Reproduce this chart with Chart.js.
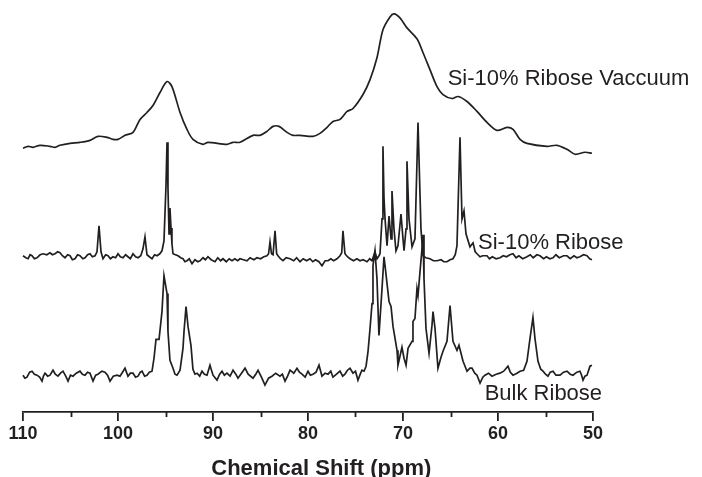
<!DOCTYPE html>
<html>
<head>
<meta charset="utf-8">
<script src="https://cdn.jsdelivr.net/npm/chart.js@4.4.1/dist/chart.umd.min.js"></script>
<style>
  body { margin: 0; background: #fff; }
  #wrap { width: 702px; height: 477px; }
</style>
</head>
<body>
<div id="wrap"><canvas id="nmrChart" width="702" height="477"></canvas></div>
<script>
// 13C spectra, [ppm, intensity] (intensity in arbitrary units above each baseline)
const vacuumTrace = [[110.0,3],[109.47,5],[108.95,4],[108.21,6],[107.16,5],[106.63,4],[106.11,6],[105.05,8],[104.0,9],[102.95,11],[102.11,15],[101.16,14],[100.53,12],[100.0,12],[99.26,16],[98.42,19],[97.68,32],[96.95,39],[96.32,46],[95.58,59],[94.84,70],[94.32,65],[93.47,39],[92.74,22],[92.11,12],[91.05,7],[90.53,9],[88.53,7],[87.89,9],[87.16,9],[85.79,16],[85.05,16],[84.32,20],[83.68,25],[83.05,25],[82.21,19],[81.58,16],[80.84,16],[79.47,15],[78.74,18],[78.0,24],[77.37,30],[76.63,32],[75.89,40],[75.26,43],[74.21,57],[73.47,72],[72.74,94],[72.11,122],[71.37,135],[70.95,138],[70.32,134],[69.58,124],[68.53,113],[67.89,99],[67.16,82],[66.42,65],[65.79,57],[64.84,53],[64.21,55],[63.26,50],[62.21,40],[61.16,29],[60.11,21],[59.05,24],[58.42,22],[57.68,12],[56.95,8],[54.84,5],[53.79,6],[52.74,2],[51.89,-3],[50.84,-1],[50.11,-2]];

const riboseTrace = [[110.0,2],[109.7,0],[109.47,-1],[109.25,3],[109.05,2],[108.8,-1],[108.53,0],[108.2,3],[107.89,4],[107.5,3],[107.16,5],[106.9,3],[106.63,4],[106.35,6],[106.11,5],[105.85,2],[105.58,0],[105.3,3],[105.05,2],[104.8,-2],[104.53,-1],[104.25,3],[104.0,2],[103.7,-1],[103.47,0],[103.2,3],[102.95,4],[102.7,1],[102.42,2],[102.21,6],[102.0,32],[101.79,6],[101.58,-1],[101.3,3],[101.05,2],[100.8,-1],[100.53,1],[100.25,0],[100.0,4],[99.75,1],[99.47,0],[99.2,3],[98.95,1],[98.7,-1],[98.42,4],[98.15,1],[97.89,0],[97.6,2],[97.37,9],[97.16,21],[96.95,3],[96.7,1],[96.42,-1],[96.15,3],[95.89,2],[95.6,4],[95.37,7],[95.16,17],[94.95,72],[94.84,116],[94.74,70],[94.63,24],[94.53,50],[94.42,30],[94.32,14],[94.21,4],[93.95,3],[93.68,2],[93.4,0],[93.16,-1],[92.95,-4],[92.74,-3],[92.5,-1],[92.21,-6],[91.9,-2],[91.6,-4],[91.37,-3],[91.05,0],[90.8,-2],[90.53,1],[90.2,-2],[89.79,-4],[89.5,0],[89.2,-3],[88.95,-1],[88.6,-4],[88.3,-1],[88.0,-3],[87.7,-1],[87.4,-3],[87.16,-1],[86.8,-2],[86.42,-3],[86.1,0],[85.7,-2],[85.37,0],[85.0,-1],[84.65,1],[84.32,2],[84.15,4],[84.0,16],[83.84,4],[83.68,3],[83.47,27],[83.3,4],[83.16,2],[82.9,-1],[82.63,-3],[82.3,0],[81.89,-1],[81.5,-3],[81.2,0],[80.84,-4],[80.5,-1],[80.15,-3],[79.79,-1],[79.5,-4],[79.2,-2],[78.85,-4],[78.53,-8],[78.2,-3],[77.89,-3],[77.6,-1],[77.3,-3],[76.95,-1],[76.63,2],[76.45,5],[76.32,27],[76.11,4],[75.85,1],[75.58,-1],[75.2,-3],[74.85,-1],[74.53,-3],[74.2,-2],[73.79,-4],[73.5,-1],[73.26,-3],[72.95,6],[72.74,-1],[72.53,2],[72.42,4],[72.21,39],[72.11,112],[72.0,60],[71.89,39],[71.68,12],[71.47,42],[71.26,19],[71.16,67],[70.95,29],[70.74,7],[70.53,12],[70.21,44],[70.0,19],[69.89,7],[69.68,29],[69.58,97],[69.37,39],[69.05,11],[68.74,19],[68.42,136],[68.11,29],[67.89,2],[67.6,0],[67.16,-1],[66.8,-3],[66.42,-3],[66.0,-2],[65.7,-4],[65.37,-4],[65.05,-2],[64.74,-1],[64.5,3],[64.32,12],[64.0,121],[63.79,39],[63.58,47],[63.37,24],[62.95,11],[62.63,15],[62.4,6],[62.21,4],[61.9,1],[61.6,2],[61.16,2],[60.9,-1],[60.6,1],[60.2,-1],[59.79,0],[59.45,2],[59.1,1],[58.75,3],[58.42,4],[58.1,0],[57.8,2],[57.4,-1],[56.95,1],[56.6,3],[56.3,0],[55.9,3],[55.58,2],[55.2,-1],[54.9,1],[54.55,-1],[54.21,0],[53.9,3],[53.55,0],[53.1,2],[52.74,2],[52.4,-1],[52.0,2],[51.7,0],[51.37,1],[51.0,3],[50.63,2],[50.35,-1],[50.11,-2]];

const bulkTrace = [[110.0,0],[109.8,-3],[109.58,-2],[109.3,3],[109.05,4],[108.8,1],[108.53,0],[108.25,-2],[108.0,-6],[107.85,-1],[107.68,2],[107.4,-1],[107.16,0],[106.84,5],[106.6,1],[106.32,-1],[106.05,2],[105.79,4],[105.5,-1],[105.26,-6],[105.0,0],[104.74,-1],[104.4,2],[104.0,4],[103.75,1],[103.47,0],[103.2,3],[102.95,2],[102.63,-6],[102.35,0],[102.11,1],[101.7,4],[101.37,3],[101.1,0],[100.84,-6],[100.5,-1],[100.11,0],[99.79,-1],[99.26,7],[98.95,-1],[98.7,2],[98.42,2],[98.15,-2],[97.89,-1],[97.65,3],[97.47,4],[97.2,-1],[96.95,0],[96.7,3],[96.42,4],[96.21,17],[96.0,36],[95.68,36],[95.37,64],[95.16,100],[94.84,82],[94.74,44],[94.53,15],[94.21,7],[94.0,1],[93.79,0],[93.47,5],[93.16,27],[93.05,44],[92.84,69],[92.63,49],[92.32,30],[92.11,6],[91.9,1],[91.68,2],[91.4,-1],[91.16,4],[90.9,1],[90.63,0],[90.32,10],[90.0,0],[89.58,-5],[89.3,1],[89.05,4],[88.8,0],[88.53,2],[88.2,-1],[87.89,5],[87.6,1],[87.37,-3],[87.0,2],[86.63,7],[86.3,1],[85.79,-3],[85.5,1],[85.26,5],[84.9,-2],[84.53,-10],[84.15,-3],[83.79,-1],[83.4,2],[82.95,-1],[82.7,1],[82.42,-6],[82.15,-1],[81.89,5],[81.5,2],[81.16,7],[80.9,3],[80.63,1],[80.3,-2],[80.0,4],[79.75,0],[79.47,1],[79.15,3],[78.84,10],[78.53,-1],[78.2,2],[77.89,1],[77.6,4],[77.37,-2],[77.0,1],[76.63,4],[76.35,-1],[76.11,1],[75.85,5],[75.58,7],[75.26,2],[75.0,4],[74.74,-5],[74.5,1],[74.32,5],[74.1,4],[73.89,9],[73.68,24],[73.47,47],[73.26,72],[73.16,110],[72.95,125],[72.74,97],[72.53,40],[72.21,87],[72.0,119],[71.89,110],[71.68,92],[71.47,74],[71.26,69],[71.05,49],[70.63,25],[70.53,10],[70.11,28],[69.89,17],[69.68,10],[69.47,27],[69.05,34],[68.95,54],[68.74,57],[68.53,87],[68.42,80],[68.21,104],[68.0,127],[67.89,141],[67.79,97],[67.58,47],[67.26,22],[66.95,50],[66.84,64],[66.63,47],[66.32,7],[66.0,18],[65.79,24],[65.37,34],[65.05,70],[64.74,34],[64.32,25],[64.11,30],[63.68,14],[63.26,4],[62.95,7],[62.74,7],[62.45,2],[62.21,0],[61.89,-8],[61.6,-2],[61.37,0],[61.0,2],[60.63,-1],[60.2,1],[59.79,2],[59.4,4],[58.95,9],[58.7,3],[58.42,0],[58.0,2],[57.68,4],[57.3,5],[56.95,14],[56.63,37],[56.32,58],[56.11,37],[55.79,14],[55.5,6],[55.26,4],[55.0,1],[54.74,-1],[54.5,3],[54.21,4],[53.9,0],[53.47,0],[53.1,3],[52.74,4],[52.4,1],[52.11,0],[51.7,3],[51.37,4],[51.2,0],[51.05,-5],[50.85,-1],[50.63,0],[50.32,9],[50.11,10]];

const traceNames = ['Si-10% Ribose Vaccuum', 'Si-10% Ribose', 'Bulk Ribose'];
const traceOffsets = [262, 155, 37];   // vertical stacking of the spectra
const majorTicks = [110, 100, 90, 80, 70, 60, 50];
const minorTicks = [105, 95, 85, 75, 65, 55];
const axisTitle = 'Chemical Shift (ppm)';

const ink = '#231f20';
const labelFont = '"Liberation Sans", Arial, sans-serif';

function stack(trace, offset) {
    return trace.map(p => ({x: p[0], y: p[1] + offset}));
}

// where each trace name sits, in ppm / plot units
const labelAnchors = [
    {ppm: 65.3, y: 329},
    {ppm: 62.1, y: 164},
    {ppm: 61.4, y: 12}
];
// the axis title in the original sits a little right of the axis centre
const titleCentrePpm = 78.6;

const minorTickPlugin = {
    id: 'minorTicks',
    afterDraw(chart) {
        const scale = chart.scales.x;
        const ctx = chart.ctx;
        ctx.save();
        ctx.strokeStyle = ink;
        ctx.lineWidth = 1.8;
        minorTicks.forEach(v => {
            const px = Math.round(scale.getPixelForValue(v)) + 0.5;
            ctx.beginPath();
            ctx.moveTo(px, scale.top);
            ctx.lineTo(px, scale.top + 5);
            ctx.stroke();
        });
        ctx.restore();
    }
};

const traceLabelPlugin = {
    id: 'traceLabels',
    afterDatasetsDraw(chart) {
        const ctx = chart.ctx;
        const xs = chart.scales.x;
        ctx.save();
        ctx.fillStyle = ink;
        ctx.font = '22px ' + labelFont;
        ctx.textBaseline = 'alphabetic';
        ctx.textAlign = 'left';
        traceNames.forEach((name, i) => {
            const a = labelAnchors[i];
            ctx.fillText(name, xs.getPixelForValue(a.ppm), chart.scales.y.getPixelForValue(a.y));
        });
        // axis title; the built-in one only reserves the space
        ctx.font = 'bold 22px ' + labelFont;
        ctx.textAlign = 'center';
        ctx.textBaseline = 'middle';
        ctx.fillText(axisTitle, xs.getPixelForValue(titleCentrePpm), xs.bottom - 8);
        ctx.restore();
    }
};

const datasets = [vacuumTrace, riboseTrace, bulkTrace].map((t, i) => ({
    label: traceNames[i],
    data: stack(t, traceOffsets[i]),
    borderColor: ink,
    borderWidth: 1.7,
    pointRadius: 0,
    tension: i === 0 ? 0.3 : 0,
    fill: false,
    clip: false
}));

new Chart(document.getElementById('nmrChart').getContext('2d'), {
    type: 'line',
    data: {datasets: datasets},
    options: {
        responsive: false,
        animation: false,
        layout: {padding: {left: 23, right: 109, top: 0, bottom: 0}},
        plugins: {
            legend: {display: false},
            tooltip: {enabled: false}
        },
        scales: {
            x: {
                type: 'linear',
                reverse: true,
                min: 50,
                max: 110,
                afterBuildTicks: scale => {
                    scale.ticks = majorTicks.map(v => ({value: v}));
                },
                ticks: {
                    color: ink,
                    padding: 2,
                    maxRotation: 0,
                    autoSkip: false,
                    font: {family: labelFont, size: 18, weight: 'bold'}
                },
                grid: {
                    drawOnChartArea: false,
                    drawTicks: true,
                    tickLength: 9,
                    color: ink,
                    lineWidth: 1.8
                },
                border: {display: true, color: ink, width: 1.8},
                title: {
                    display: true,
                    text: axisTitle,
                    color: 'rgba(0,0,0,0)',
                    font: {family: labelFont, size: 22, weight: 'bold', lineHeight: 0.75},
                    padding: {top: 13.9, bottom: 0}
                }
            },
            y: {
                display: false,
                min: 0,
                max: 414
            }
        }
    },
    plugins: [minorTickPlugin, traceLabelPlugin]
});
</script>
</body>
</html>
